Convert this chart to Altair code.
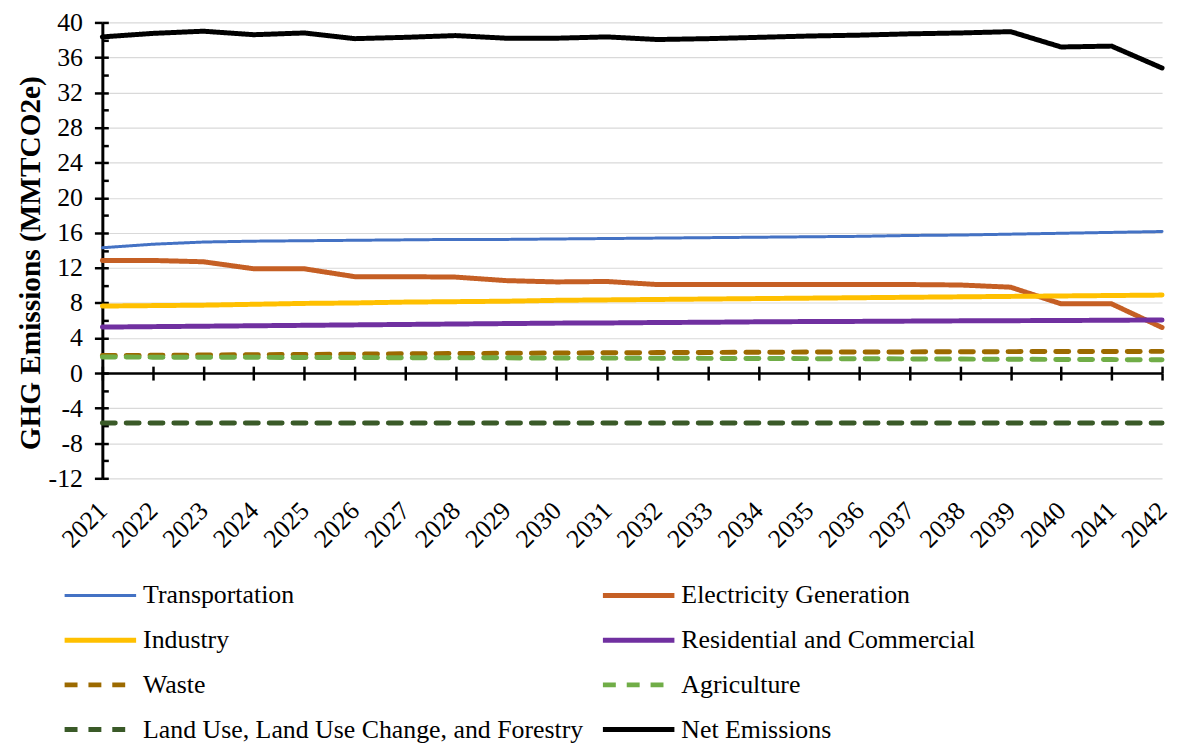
import altair as alt
import pandas as pd

years = list(range(2021, 2043))

transportation = [14.3, 14.7, 14.95, 15.05, 15.1, 15.15, 15.2, 15.25, 15.25, 15.3, 15.35,
                  15.4, 15.45, 15.5, 15.55, 15.6, 15.7, 15.75, 15.85, 15.95, 16.05, 16.15]
electricity = [12.85, 12.85, 12.7, 11.9, 11.9, 11.0, 11.0, 10.95, 10.55, 10.4, 10.45,
               10.1, 10.1, 10.1, 10.1, 10.1, 10.1, 10.05, 9.8, 7.9, 7.9, 5.2]
industry = [7.65, 7.7, 7.75, 7.85, 7.95, 8.0, 8.1, 8.15, 8.2, 8.3, 8.35,
            8.4, 8.45, 8.5, 8.55, 8.6, 8.65, 8.7, 8.75, 8.8, 8.85, 8.9]
residential = [5.25, 5.3, 5.35, 5.4, 5.45, 5.5, 5.55, 5.6, 5.65, 5.7, 5.72,
               5.77, 5.8, 5.85, 5.88, 5.9, 5.93, 5.96, 5.98, 6.0, 6.03, 6.06]
waste = [2.0, 2.03, 2.06, 2.1, 2.13, 2.16, 2.2, 2.23, 2.26, 2.29, 2.32,
         2.34, 2.36, 2.38, 2.4, 2.41, 2.42, 2.44, 2.45, 2.46, 2.47, 2.48]
agriculture = [1.83, 1.82, 1.81, 1.8, 1.78, 1.77, 1.76, 1.75, 1.74, 1.72, 1.71,
               1.7, 1.68, 1.67, 1.65, 1.64, 1.62, 1.6, 1.58, 1.56, 1.54, 1.52]
lulucf = [-5.7] * 22
net = [38.35, 38.75, 39.0, 38.6, 38.8, 38.15, 38.3, 38.5, 38.2, 38.2, 38.35,
       38.05, 38.15, 38.3, 38.45, 38.55, 38.7, 38.8, 38.95, 37.2, 37.3, 34.8]

series_names = ["Transportation", "Electricity Generation", "Industry",
                "Residential and Commercial", "Waste", "Agriculture",
                "Land Use, Land Use Change, and Forestry", "Net Emissions"]
series_values = [transportation, electricity, industry, residential, waste,
                 agriculture, lulucf, net]
colors = ["#4472C4", "#C55F24", "#FFC000", "#7030A0", "#9C6A00", "#70AD47",
          "#3A5A28", "#000000"]
dashes = [[1, 0], [1, 0], [1, 0], [1, 0], [13, 11], [13, 11], [13, 11], [1, 0]]
widths = [3, 5, 5, 5, 5, 5, 5, 5]

y_major = list(range(-12, 41, 4))
y_minor = list(range(-12, 41, 2))

rows = []
for name, vals in zip(series_names, series_values):
    for yr, v in zip(years, vals):
        rows.append({"year": yr, "value": v, "series": name})
df = pd.DataFrame(rows)

W, H = 1067, 459
FONT = "Liberation Serif"
zero_from_bottom = H * 12 / 52
zero_from_top = H * 40 / 52

xscale = alt.Scale(domain=[2021, 2042], nice=False, zero=False)
yscale = alt.Scale(domain=[-12, 40], nice=False, zero=False)

legend = alt.Legend(
    title=None, orient="none", legendX=-15, legendY=564, columns=2, direction="horizontal",
    symbolType="M-3.6,0H3.6", symbolSize=400, labelFont=FONT, labelFontSize=26,
    labelColor="#000000", labelLimit=800, rowPadding=19, columnPadding=9,
    labelOffset=30,
)

lines = alt.Chart(df).mark_line(strokeCap="round", strokeJoin="round").encode(
    x=alt.X("year:Q", scale=xscale,
            axis=alt.Axis(orient="bottom", values=years, format="d", labelAngle=-45,
                          labelFont=FONT, labelFontSize=26, labelColor="#000000",
                          ticks=False, domain=False, grid=False, title=None,
                          labelPadding=19, labelOffset=-9, labelOverlap=False)),
    y=alt.Y("value:Q", scale=yscale,
            axis=alt.Axis(orient="left", values=y_major, grid=True, gridColor="#D9D9D9",
                          gridWidth=1.2, tickSize=8, tickWidth=2.5, tickColor="#000000",
                          domainColor="#000000", domainWidth=3, labelFont=FONT,
                          labelFontSize=26, labelColor="#000000", labelPadding=12,
                          labelExpr="datum.value < 0 ? '-' + toString(-datum.value) : toString(datum.value)",
                          title="GHG Emissions (MMTCO2e)", titleFont=FONT,
                          titleFontSize=29.5, titleFontWeight="bold", titleColor="#000000",
                          titlePadding=3, titleY=242)),
    color=alt.Color("series:N", scale=alt.Scale(domain=series_names, range=colors),
                    legend=legend),
    strokeDash=alt.StrokeDash("series:N", scale=alt.Scale(domain=series_names, range=dashes),
                              legend=legend),
    strokeWidth=alt.StrokeWidth("series:N",
                                scale=alt.Scale(type="ordinal", domain=series_names, range=widths),
                                legend=legend),
    order=alt.Order("series:N"),
)

ticks_a = alt.Chart(df).mark_point(opacity=0).encode(
    x=alt.X("year:Q", scale=xscale,
            axis=alt.Axis(orient="bottom", offset=-zero_from_bottom, values=years,
                          labels=False, tickSize=7, tickWidth=2.5, tickColor="#000000",
                          domainColor="#000000", domainWidth=2.5, grid=False, title=None)),
    y=alt.Y("value:Q", scale=yscale,
            axis=alt.Axis(orient="right", offset=-W, values=y_minor, labels=False,
                          tickSize=6, tickWidth=2.5, tickColor="#000000", domain=False,
                          grid=False, title=None)),
)

ticks_b = alt.Chart(df).mark_point(opacity=0).encode(
    x=alt.X("year:Q", scale=xscale,
            axis=alt.Axis(orient="top", offset=-zero_from_top, values=years,
                          labels=False, tickSize=7, tickWidth=2.5, tickColor="#000000",
                          domain=False, grid=False, title=None)),
    y=alt.Y("value:Q", scale=yscale, axis=None),
)

chart = alt.layer(lines, ticks_a, ticks_b).resolve_axis(
    x="independent", y="independent"
).properties(
    width=W, height=H,
    autosize=alt.AutoSizeParams(type="none"),
    padding={"left": 95, "top": 12, "right": 8, "bottom": 266},
).configure(background="#FFFFFF").configure_view(stroke=None)

chart.save("out.html", embed_options={"renderer": "svg", "actions": False})
